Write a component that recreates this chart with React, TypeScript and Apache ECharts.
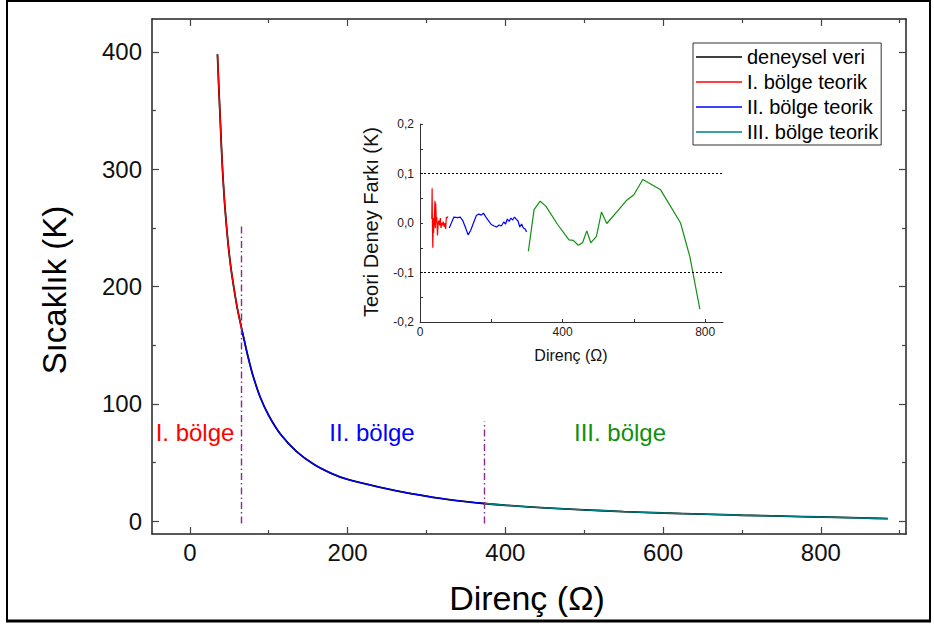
import React, { useEffect, useRef } from "react";
import * as echarts from "echarts";

// ---- Main panel: temperature (K) vs resistance (Ω) ----
const expR = [35, 37, 39, 41, 44, 48, 52, 56, 60, 66, 69, 72, 76, 80, 89, 100, 115, 135, 157, 180, 200, 240, 280, 320, 350, 373, 400, 450, 500, 550, 600, 650, 700, 750, 800, 850, 885];
const expT = [398, 365, 335, 305, 272, 240, 216, 198, 182, 163, 154, 145, 134, 124, 106, 90, 74, 59.5, 48.5, 40.5, 35.5, 29, 23.5, 19.2, 16.6, 15, 13.5, 11.3, 9.6, 8.1, 6.9, 5.9, 5, 4.2, 3.5, 2.7, 2.1];

const regionIR = [35, 37, 39, 41, 44, 48, 52, 56, 60, 66];
const regionIT = [398, 365, 335, 305, 272, 240, 216, 198, 182, 163];

const regionIIR = [66, 69, 72, 76, 80, 89, 100, 115, 135, 157, 180, 200, 240, 280, 320, 350, 373];
const regionIIT = [163, 154, 145, 134, 124, 106, 90, 74, 59.5, 48.5, 40.5, 35.5, 29, 23.5, 19.2, 16.6, 15];

const regionIIIR = [373, 400, 450, 500, 550, 600, 650, 700, 750, 800, 850, 885];
const regionIIIT = [15, 13.5, 11.3, 9.6, 8.1, 6.9, 5.9, 5, 4.2, 3.5, 2.7, 2.1];

// Region boundaries (Ω) and the top of each boundary marker (K)
const boundaryR = [65, 373];
const boundaryTop = [252, 85];

// ---- Inset: theory minus experiment (K) ----
const diffIR = [33, 34, 35, 36, 37, 38, 40, 42, 43, 44, 46, 47, 49, 51, 53, 55, 57, 59, 61, 63, 65, 68, 70, 72, 74, 76, 78];
const diffIV = [0.008, 0.07, -0.01, -0.05, 0.01, -0.02, 0.005, 0.045, -0.01, 0.04, 0.0, 0.012, -0.025, 0.0, 0.005, -0.005, 0.01, -0.01, 0.0, -0.005, 0.003, -0.008, 0.0, -0.012, 0.012, 0.01, 0.013];

const diffIIR = [82, 88, 95, 105, 113, 120, 128, 135, 142, 150, 158, 165, 172, 178, 185, 192, 200, 208, 215, 222, 228, 235, 240, 245, 250, 255, 260, 265, 270, 275, 280, 285, 290, 295, 299];
const diffIIV = [-0.01, 0.0, 0.012, 0.011, 0.012, 0.005, -0.01, -0.024, -0.015, 0.0, 0.015, 0.018, 0.016, 0.02, 0.012, 0.005, -0.003, -0.006, -0.008, -0.004, -0.006, 0.002, -0.002, 0.008, 0.003, 0.01, 0.006, 0.012, 0.008, 0.004, -0.008, -0.002, -0.01, -0.012, -0.018];

const diffIIIR = [304, 320, 337, 353, 386, 418, 430, 444, 456, 468, 479, 495, 509, 524, 554, 580, 600, 625, 675, 731, 757, 785];
const diffIIIV = [-0.057, 0.027, 0.044, 0.034, -0.003, -0.034, -0.035, -0.045, -0.04, -0.016, -0.04, -0.027, 0.022, -0.001, 0.024, 0.046, 0.057, 0.088, 0.067, 0.0, -0.068, -0.174];

const limitLines = [0.1, -0.1];

// ---- Tick positions ----
const xMajor = [0, 200, 400, 600, 800];
const xMinor = [100, 300, 500, 700, 900];
const yMajor = [0, 100, 200, 300, 400];
const yMinor = [50, 150, 250, 350];
const insetXLabels = [0, 400, 800];
const insetXTicks = [0, 200, 400, 600, 800];
const insetYLabels = [-0.2, -0.1, 0, 0.1, 0.2];
const insetYTicks = [-0.2, -0.15, -0.1, -0.05, 0, 0.05, 0.1, 0.15, 0.2];

// ---- Texts ----
const legendNames = ["deneysel veri", "I. bölge teorik", "II. bölge teorik", "III. bölge teorik"];
const regionNames = ["I. bölge", "II. bölge", "III. bölge"];
const mainXTitle = "Direnç (Ω)";
const mainYTitle = "Sıcaklık (K)";
const insetXTitle = "Direnç (Ω)";
const insetYTitle = "Teori Deney Farkı (K)";

const FONT = "'Liberation Sans', Arial, sans-serif";
const zip = (a: number[], b: number[]) => a.map((v, i) => [v, b[i]]);

const MAIN_X = { min: -48, max: 908 };
const MAIN_Y = { min: -11, max: 428 };

function mainAxis(kind: "x" | "y", position: string, opts: { line: boolean; labels: number[] | null; ticks: number[]; len: number }) {
  const range = kind === "x" ? MAIN_X : MAIN_Y;
  return {
    type: "value",
    gridIndex: 0,
    position,
    min: range.min,
    max: range.max,
    axisLine: { show: opts.line, onZero: false, lineStyle: { color: "#222", width: 1.5 } },
    axisTick: { show: true, inside: true, length: opts.len, customValues: opts.ticks, lineStyle: { color: "#444", width: 1.2 } },
    axisLabel: opts.labels
      ? { show: true, customValues: opts.labels, fontFamily: FONT, fontSize: 24, color: "#111", margin: kind === "x" ? 6 : 10 }
      : { show: false },
    splitLine: { show: false },
    minorTick: { show: false },
  };
}

export default function App() {
  const ref = useRef<HTMLDivElement>(null);

  useEffect(() => {
    if (!ref.current) return;
    const chart = echarts.init(ref.current, null, { renderer: "svg" });

    const seriesColors = ["#000000", "#ff0000", "#0000ff", "#008080"];
    const mainData = [zip(expR, expT), zip(regionIR, regionIT), zip(regionIIR, regionIIT), zip(regionIIIR, regionIIIT)];

    const mainSeries = legendNames.map((name, i) => ({
      type: "line",
      name,
      xAxisIndex: 0,
      yAxisIndex: 0,
      data: mainData[i],
      smooth: 0.3,
      symbol: "none",
      color: seriesColors[i],
      lineStyle: { color: seriesColors[i], width: i === 0 ? 1.8 : 1.4 },
      z: i === 0 ? 2 : 3,
      ...(i === 0
        ? {
            markLine: {
              silent: true,
              symbol: ["none", "none"],
              label: { show: false },
              lineStyle: { color: "#8b2a8b", width: 1.4, type: [7, 3, 1.5, 3] },
              data: boundaryR.map((r, k) => [{ coord: [r, -2] }, { coord: [r, boundaryTop[k]] }]),
            },
          }
        : {}),
    }));

    const insetColors = ["#ff0000", "#0000ff", "#119111"];
    const insetData = [zip(diffIR, diffIV), zip(diffIIR, diffIIV), zip(diffIIIR, diffIIIV)];
    const insetSeries = insetData.map((d, i) => ({
      type: "line",
      name: "fark-" + i,
      xAxisIndex: 4,
      yAxisIndex: 4,
      data: d,
      symbol: "none",
      color: insetColors[i],
      lineStyle: { color: insetColors[i], width: 1.2 },
      z: 3,
      ...(i === 2
        ? {
            markLine: {
              silent: true,
              symbol: ["none", "none"],
              label: { show: false },
              lineStyle: { color: "#000", width: 1, type: [2, 2] },
              data: limitLines.map((v) => ({ yAxis: v })),
            },
          }
        : {}),
    }));

    const regionColors = ["#ff0000", "#0000ff", "#0f8f0f"];
    const regionX = [195, 372, 620];

    const option = {
      animation: false,
      backgroundColor: "#ffffff",
      grid: [
        { left: 152, top: 19, width: 754, height: 515 },
        { left: 420, top: 124, width: 303, height: 198 },
      ],
      xAxis: [
        mainAxis("x", "bottom", { line: true, labels: xMajor, ticks: xMajor, len: 7 }),
        mainAxis("x", "bottom", { line: false, labels: null, ticks: xMinor, len: 4 }),
        mainAxis("x", "top", { line: true, labels: null, ticks: xMajor, len: 7 }),
        mainAxis("x", "top", { line: false, labels: null, ticks: xMinor, len: 4 }),
        {
          type: "value",
          gridIndex: 1,
          position: "bottom",
          min: 0,
          max: 850,
          axisLine: { show: true, onZero: false, lineStyle: { color: "#333", width: 1 } },
          axisTick: { show: true, inside: true, length: 3, customValues: insetXTicks, lineStyle: { color: "#333" } },
          axisLabel: { show: true, customValues: insetXLabels, fontFamily: FONT, fontSize: 12, color: "#222", margin: 4 },
          splitLine: { show: false },
        },
      ],
      yAxis: [
        mainAxis("y", "left", { line: true, labels: yMajor, ticks: yMajor, len: 7 }),
        mainAxis("y", "left", { line: false, labels: null, ticks: yMinor, len: 4 }),
        mainAxis("y", "right", { line: true, labels: null, ticks: yMajor, len: 7 }),
        mainAxis("y", "right", { line: false, labels: null, ticks: yMinor, len: 4 }),
        {
          type: "value",
          gridIndex: 1,
          position: "left",
          min: -0.2,
          max: 0.2,
          axisLine: { show: true, onZero: false, lineStyle: { color: "#333", width: 1 } },
          axisTick: { show: true, inside: true, length: 3, customValues: insetYTicks, lineStyle: { color: "#333" } },
          axisLabel: {
            show: true,
            customValues: insetYLabels,
            fontFamily: FONT,
            fontSize: 12,
            color: "#222",
            margin: 6,
            formatter: (v: number) => v.toFixed(1).replace(".", ","),
          },
          splitLine: { show: false },
        },
      ],
      legend: {
        data: legendNames,
        orient: "vertical",
        left: 693,
        top: 43,
        icon: "rect",
        itemWidth: 46,
        itemHeight: 1.5,
        itemGap: 5,
        padding: [4, 3, 3, 3],
        borderColor: "#333",
        borderWidth: 1,
        backgroundColor: "#fff",
        selectedMode: false,
        textStyle: { fontFamily: FONT, fontSize: 20, color: "#000", lineHeight: 20 },
      },
      graphic: [
        {
          type: "rect",
          shape: { x: 7, y: 1, width: 923, height: 620 },
          style: { fill: "none", stroke: "#000", lineWidth: 2 },
          silent: true,
          z: 0,
        },
        {
          type: "line",
          shape: { x1: 6, y1: 621, x2: 931, y2: 621 },
          style: { stroke: "#000", lineWidth: 3 },
          silent: true,
        },
        ...regionNames.map((t, i) => ({
          type: "text",
          x: regionX[i],
          y: 432,
          style: { text: t, fill: regionColors[i], font: `24px ${FONT}`, align: "center", verticalAlign: "middle" },
          silent: true,
        })),
        {
          type: "text",
          x: 527,
          y: 598,
          style: { text: mainXTitle, fill: "#000", font: `34px ${FONT}`, align: "center", verticalAlign: "middle" },
          silent: true,
        },
        {
          type: "text",
          x: 54,
          y: 290,
          rotation: Math.PI / 2,
          style: { text: mainYTitle, fill: "#000", font: `33px ${FONT}`, align: "center", verticalAlign: "middle" },
          silent: true,
        },
        {
          type: "text",
          x: 571,
          y: 355,
          style: { text: insetXTitle, fill: "#111", font: `16px ${FONT}`, align: "center", verticalAlign: "middle" },
          silent: true,
        },
        {
          type: "text",
          x: 371,
          y: 222,
          rotation: Math.PI / 2,
          style: { text: insetYTitle, fill: "#111", font: `20px ${FONT}`, align: "center", verticalAlign: "middle" },
          silent: true,
        },
      ],
      series: [...mainSeries, ...insetSeries],
    };

    chart.setOption(option as any);
    return () => chart.dispose();
  }, []);

  return (
    <div
      ref={ref}
      style={{ position: "fixed", left: 0, top: 0, width: 934, height: 628, background: "#fff" }}
    />
  );
}
